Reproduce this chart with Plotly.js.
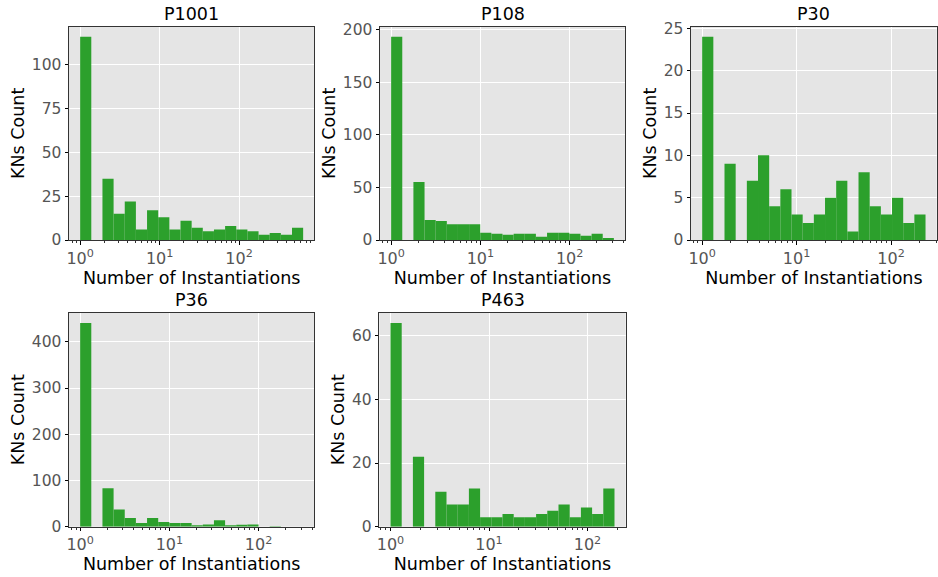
<!DOCTYPE html>
<html><head><meta charset="utf-8">
<script src="https://cdn.plot.ly/plotly-3.0.1.min.js"></script>
<style>html,body{margin:0;padding:0;background:#fff}</style>
</head><body>
<div id="chart" style="width:938px;height:577px"></div>
<script>
// ---- data ----
const panelNames = ['P1001', 'P108', 'P30', 'P36', 'P463'];
// largest "number of instantiations" per panel (defines the 20 log-spaced bins)
const binMax = [640, 313, 232, 316, 188];
const countsP1001 = [116, 0, 35, 15, 22, 6, 17, 13, 6, 11, 7, 5, 6, 8, 6, 5, 3, 4, 3, 7];
const countsP108  = [193, 0, 55, 19, 18, 15, 15, 15, 7, 6, 5, 6, 6, 3, 7, 7, 6, 4, 6, 2];
const countsP30   = [24, 0, 9, 0, 7, 10, 4, 6, 3, 2, 3, 5, 7, 1, 8, 4, 3, 5, 2, 3];
const countsP36   = [441, 0, 83, 37, 19, 8, 19, 10, 8, 8, 3, 5, 14, 3, 4, 5, 0, 1, 0, 0];
const countsP463  = [64, 0, 22, 0, 11, 7, 7, 12, 3, 3, 4, 3, 3, 4, 5, 7, 3, 6, 4, 12];
const yTickStep = [25, 50, 5, 100, 20];
const xTickVals = [1, 10, 100];
const xTickText = ['10<sup>0</sup>', '10<sup>1</sup>', '10<sup>2</sup>'];
const xTitle = 'Number of Instantiations';
const yTitle = 'KNs Count';

// ---- layout / styling ----
const allCounts = [countsP1001, countsP108, countsP30, countsP36, countsP463];
const W = 938, H = 577;
const boxes = [ // [left, right, top, bottom] in px
  [69, 314.3, 26.7, 240],
  [380, 625, 26.7, 240],
  [691, 936.7, 26.7, 240],
  [69, 314.3, 312.7, 526.7],
  [379.3, 625.7, 312.7, 526.7]
];
const FONT = 'DejaVu Sans, Liberation Sans, sans-serif';
const nBins = 20;

const traces = [];
const layout = {
  width: W, height: H,
  margin: {l: 0, r: 0, t: 0, b: 0},
  paper_bgcolor: '#ffffff',
  plot_bgcolor: '#e5e5e5',
  font: {family: FONT, size: 15.5, color: '#555555'},
  showlegend: false,
  annotations: []
};

allCounts.forEach((counts, i) => {
  const n = i + 1;
  const L = Math.log10(binMax[i]);
  const edges = [];
  for (let k = 0; k <= nBins; k++) edges.push(Math.pow(10, L * k / nBins));
  const centers = [], widths = [];
  for (let k = 0; k < nBins; k++) {
    centers.push((edges[k] + edges[k + 1]) / 2);
    widths.push(edges[k + 1] - edges[k]);
  }
  traces.push({
    type: 'bar', x: centers, y: counts, width: widths,
    xaxis: 'x' + n, yaxis: 'y' + n,
    marker: {color: '#2ca02c', line: {width: 0}},
    hovertemplate: '%{y}<extra></extra>'
  });
  const b = boxes[i];
  const ymax = Math.max(...counts) * 1.05;
  layout['xaxis' + n] = {
    type: 'log', domain: [b[0] / W, b[1] / W], anchor: 'y' + n,
    range: [-0.05 * L, 1.05 * L],
    tickmode: 'array', tickvals: xTickVals, ticktext: xTickText,
    ticks: 'outside', ticklen: 3.5, tickwidth: 1, tickcolor: '#000000',
    minor: {ticks: 'outside', ticklen: 2, tickwidth: 0.8, tickcolor: '#000000', dtick: 'D1', showgrid: false},
    showline: true, mirror: true, linecolor: '#333333', linewidth: 1,
    showgrid: true, gridcolor: '#ffffff', gridwidth: 1, zeroline: false,
    tickfont: {family: FONT, size: 16, color: '#555555'},
    title: {text: xTitle, font: {family: FONT, size: 17.5, color: '#000000'}, standoff: 0}
  };
  layout['yaxis' + n] = {
    domain: [1 - b[3] / H, 1 - b[2] / H], anchor: 'x' + n,
    range: [0, ymax], dtick: yTickStep[i], tick0: 0,
    ticks: 'outside', ticklen: 3.5, tickwidth: 1, tickcolor: '#000000',
    showline: true, mirror: true, linecolor: '#333333', linewidth: 1,
    showgrid: true, gridcolor: '#ffffff', gridwidth: 1, zeroline: false,
    tickfont: {family: FONT, size: 15.5, color: '#555555'},
    title: {text: yTitle, font: {family: FONT, size: 17.5, color: '#000000'}, standoff: 2}
  };
  layout.annotations.push({
    text: panelNames[i], xref: 'paper', yref: 'paper',
    x: (b[0] + b[1]) / 2 / W, y: 1 - b[2] / H,
    xanchor: 'center', yanchor: 'bottom', yshift: 1, showarrow: false,
    font: {family: FONT, size: 17.5, color: '#000000'}
  });
});

Plotly.newPlot('chart', traces, layout, {displayModeBar: false, staticPlot: true});
</script>
</body></html>
